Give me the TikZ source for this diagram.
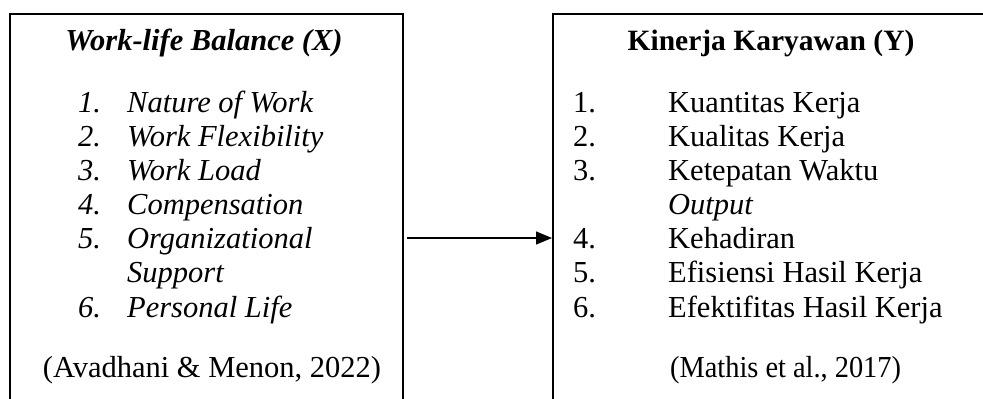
\documentclass[tikz,border=0pt]{standalone}
\usepackage{fontspec}
\setmainfont{Liberation Serif}
\usetikzlibrary{arrows.meta}
\begin{document}
\begin{tikzpicture}[x=1pt,y=-1pt,
  frame/.style={draw, line width=1.5pt, rectangle, inner sep=0pt, anchor=north west},
  txt/.style={inner sep=0pt, anchor=base west, font=\fontsize{30.5}{34}\selectfont},
  itxt/.style={txt, font=\fontsize{30.5}{34}\selectfont\itshape},
  ttl/.style={inner sep=0pt, anchor=base, font=\fontsize{29.5}{34}\selectfont\bfseries},
  link/.style={line width=1.3pt, -{Triangle[length=16pt,width=13pt]}}
]
\useasboundingbox (0,0) rectangle (983,399);

% the two boxes (open at the bottom / right edge of the page)
\node[frame, minimum width=393pt, minimum height=420pt] (lbox) at (9,13) {};
\node[frame, minimum width=460pt, minimum height=420pt] (rbox) at (552,13) {};

% left box: independent variable
\node[ttl, font=\fontsize{30.5}{34}\selectfont\bfseries\itshape] (lt) at (204,50) {Work-life Balance (X)};
\foreach \n/\t/\y [count=\i] in {1./Nature of Work/112, 2./Work Flexibility/146, 3./Work Load/180,
    4./Compensation/214, 5./Organizational/248, 6./Personal Life/317}{
  \node[itxt] (ln\i) at (78,\y) {\n};
  \node[itxt] (li\i) at (127,\y) {\t};
}
\node[itxt] (lsup) at (127,282) {Support};
\node[txt, anchor=base] (lc) at (212,377) {(Avadhani \& Menon, 2022)};

% right box: dependent variable
\node[ttl] (rt) at (771,50) {Kinerja Karyawan (Y)};
\foreach \n/\t/\y [count=\i] in {1./Kuantitas Kerja/112, 2./Kualitas Kerja/146, 3./Ketepatan Waktu/180,
    4./Kehadiran/248, 5./Efisiensi Hasil Kerja/282, 6./Efektifitas Hasil Kerja/317}{
  \node[txt] (rn\i) at (573,\y) {\n};
  \node[txt] (ri\i) at (668,\y) {\t};
}
\node[itxt] (rout) at (668,214) {Output};
\node[txt] (rc) at (670,377) {\addfontfeature{FakeStretch=0.93}(Mathis et al., 2017)};

% relation X -> Y
\coordinate (ay) at (0,238);
\draw[link] ([xshift=3pt]ay -| lbox.east) -- (ay -| rbox.west);
\end{tikzpicture}
\end{document}
